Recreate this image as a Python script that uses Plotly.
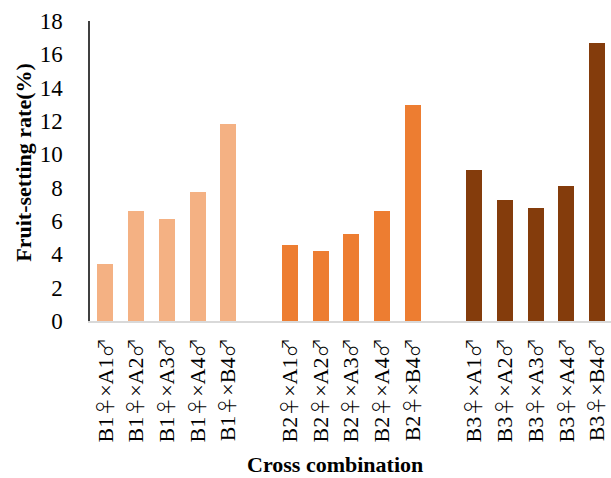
import plotly.graph_objects as go

# Fruit-setting rate (%) for each cross combination, grouped by female parent
group_b1_labels = ["B1♀×A1♂", "B1♀×A2♂", "B1♀×A3♂", "B1♀×A4♂", "B1♀×B4♂"]
group_b2_labels = ["B2♀×A1♂", "B2♀×A2♂", "B2♀×A3♂", "B2♀×A4♂", "B2♀×B4♂"]
group_b3_labels = ["B3♀×A1♂", "B3♀×A2♂", "B3♀×A3♂", "B3♀×A4♂", "B3♀×B4♂"]

group_b1_values = [3.43, 6.62, 6.14, 7.77, 11.8]
group_b2_values = [4.55, 4.19, 5.21, 6.6, 12.98]
group_b3_values = [9.06, 7.25, 6.77, 8.1, 16.7]

y_ticks = [0, 2, 4, 6, 8, 10, 12, 14, 16, 18]

groups = [
    (group_b1_labels, group_b1_values, "#F4B183", 0),
    (group_b2_labels, group_b2_values, "#ED7D31", 6),
    (group_b3_labels, group_b3_values, "#843C0C", 12),
]

serif = "Liberation Serif"


def symbol_span(label):
    # sex symbols drawn with a CJK font (thin, full-width glyphs)
    out = ""
    for ch in label:
        if ch in "♀♂":
            out += ("<span style='font-family:Noto Sans CJK JP;font-size:20px;"
                    f"font-weight:300'>{ch}</span>")
        else:
            out += ch
    return out


fig = go.Figure()
tick_vals, tick_text = [], []
for labels, values, color, start in groups:
    xs = [start + i for i in range(len(labels))]
    tick_vals += xs
    tick_text += [symbol_span(s) for s in labels]
    fig.add_trace(go.Bar(x=xs, y=values, marker_color=color, width=0.52,
                         marker_line_width=0, showlegend=False))

fig.update_layout(
    width=611, height=478,
    margin=dict(l=89.5, r=0, t=21, b=157.3),
    plot_bgcolor="white", paper_bgcolor="white",
    font=dict(family=serif, size=22, color="black"),
    bargap=0,
)
fig.update_xaxes(
    range=[-0.5, 16.45], tickmode="array", tickvals=tick_vals, ticktext=tick_text,
    tickangle=-90, tickfont=dict(size=22, family=serif), ticklabelstandoff=6,
    showline=True, linecolor="#D9D9D9", linewidth=1.5, showgrid=False,
    ticks="", zeroline=False,
)
fig.update_yaxes(
    range=[0, 18], tickmode="array", tickvals=y_ticks,
    tickfont=dict(size=23, family=serif), ticklabelstandoff=21,
    showline=True, linecolor="#404040", linewidth=1.5, showgrid=False,
    ticks="", zeroline=False,
)
fig.add_annotation(text="<b>Cross combination</b>", xref="paper", yref="paper",
                   x=0.471, y=-0.478, showarrow=False,
                   font=dict(size=22, family=serif), xanchor="center", yanchor="middle")
fig.add_annotation(text="<b>Fruit-setting rate(%)</b>", xref="paper", yref="paper",
                   x=-0.1275, y=0.5295, showarrow=False, textangle=-90,
                   font=dict(size=22, family=serif), xanchor="center", yanchor="middle")

fig.write_html("out.html")
